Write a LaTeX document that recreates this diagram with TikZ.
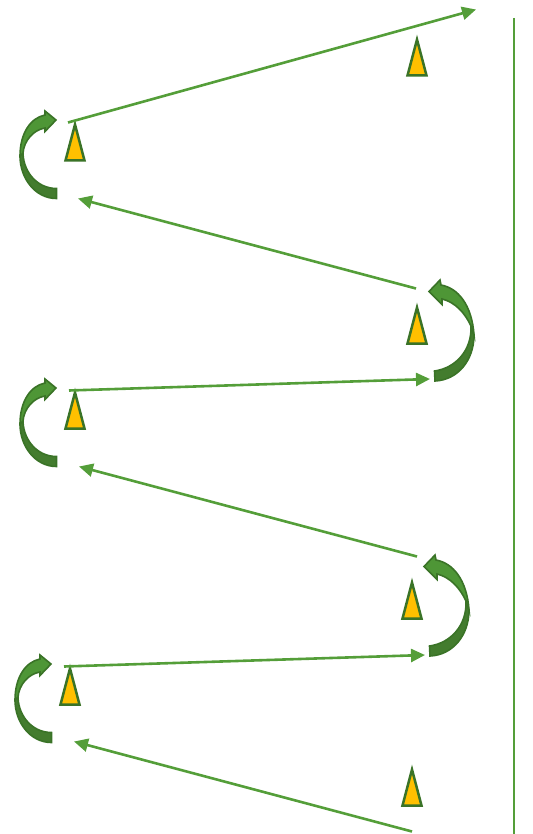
\documentclass[tikz,border=0pt]{standalone}
\usetikzlibrary{arrows.meta}
\definecolor{linegreen}{HTML}{549E39}
\definecolor{edgegreen}{HTML}{3A7327}
\definecolor{frontgreen}{HTML}{4E9636}
\definecolor{darkgreen}{HTML}{437C2E}
\definecolor{amber}{HTML}{FFC000}
\tikzset{
  flow/.style={draw=linegreen,line width=2.6pt,-{Triangle[length=14pt,width=13pt]}},
  siderule/.style={draw=linegreen,line width=2pt},
  marker/.style={draw=edgegreen,fill=amber,line width=2.5pt,line join=miter,miter limit=10},
  turnfront/.style={draw=edgegreen,fill=frontgreen,line width=1.6pt,line join=miter},
  turnback/.style={draw=edgegreen,fill=darkgreen,line width=1.6pt,line join=miter},
}
\newcommand{\tri}[2]{\draw[marker] (#1-9.5,#2-1) -- (#1,#2-37) -- (#1+9.5,#2-1) -- cycle;}
\newcommand{\turnL}[2]{\begin{scope}[shift={(#1,#2)}]
  \fill[turnback] (56.5,198.5) .. controls (35,198.5) and (20,178) .. (20,156) -- (23,150)
     .. controls (22,170) and (36,188.5) .. (56.5,188.5) -- cycle;
  \fill[turnfront] (45,115) .. controls (30,118) and (20,134) .. (20,156) -- (23,153)
     .. controls (24,141) and (33,130) .. (45,128) -- (45,131.5) -- (56,120) -- (45,111) -- cycle;
\end{scope}}
\newcommand{\turnR}[2]{\begin{scope}[shift={(#1,#2)}]
  \fill[turnback] (435,381) .. controls (458,380) and (474,360) .. (474,335) -- (471,326)
     .. controls (472,350) and (456,368) .. (434.5,371) -- cycle;
  \fill[turnfront] (441,285) .. controls (458,288) and (472,305) .. (474,335) -- (471,326)
     .. controls (465,313) and (455,302) .. (442,299) -- (442,304.5) -- (429,291.5) -- (440,280) -- cycle;
\end{scope}}
\begin{document}
\begin{tikzpicture}[x=1pt,y=-1pt]
\useasboundingbox (0,0) rectangle (532,834);
\coordinate (a0) at (412,831.5); \coordinate (a1) at (74,741.5);
\coordinate (b0) at (64,666.5);  \coordinate (b1) at (425,655);
\coordinate (c0) at (417,556.5); \coordinate (c1) at (79,466.5);
\coordinate (d0) at (69,390.5);  \coordinate (d1) at (430,379);
\coordinate (e0) at (416,288.5); \coordinate (e1) at (78,198.5);
\coordinate (f0) at (68,122.5);  \coordinate (f1) at (476,9.5);
\coordinate (r0) at (513.5,18); \coordinate (r1) at (513.5,834);
\draw[siderule] (r0) -- (r1);
\turnL{0}{0}\turnL{0}{268}\turnL{-5}{544}
\turnR{0}{0}\turnR{-5}{275}
\tri{417}{76.5}\tri{75}{161.5}\tri{417}{344.5}\tri{75}{429.5}\tri{412}{619.5}\tri{70}{705.5}\tri{412}{806.5}
\foreach \s/\t in {a0/a1,b0/b1,c0/c1,d0/d1,e0/e1,f0/f1} \draw[flow] (\s) -- (\t);
\end{tikzpicture}
\end{document}
